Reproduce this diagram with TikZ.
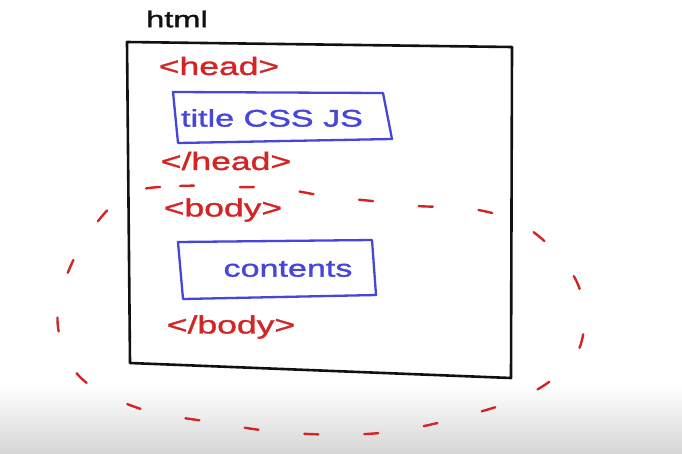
\documentclass[tikz,border=0pt]{standalone}
\usepackage{fontspec}
\setmainfont{Liberation Sans}
\newfontfamily\markerfont[FakeStretch=1.42, FakeBold=1.4]{Liberation Sans}
\definecolor{inkred}{HTML}{D42424}
\definecolor{inkblue}{HTML}{4646DC}
\definecolor{inkblack}{HTML}{111111}
\tikzset{
  pen/.style={line width=2.6pt, line cap=round, line join=round},
  outerbox/.style={pen, draw=inkblack},
  innerbox/.style={pen, draw=inkblue, line width=2.3pt},
  tagtext/.style={text=inkred, font=\markerfont\fontsize{25}{28}\selectfont, inner sep=0pt},
  bluetext/.style={text=inkblue, font=\markerfont\fontsize{24}{28}\selectfont, inner sep=0pt},
  labeltext/.style={text=inkblack, font=\markerfont\fontsize{23}{28}\selectfont, inner sep=0pt},
  scope line/.style={draw=inkred, line width=2.4pt, line cap=round,
    dash pattern=on 14pt off 46pt},
}
\begin{document}
\begin{tikzpicture}[x=1pt,y=-1pt]
  \useasboundingbox (0,0) rectangle (682,453);
  \fill[white] (0,0) rectangle (682,453);
  % soft grey band along the bottom edge
  \shade[top color=white, bottom color=black!16] (0,385) rectangle (682,453);

  % html element
  \node[labeltext] (html) at (177,19) {html};
  \draw[outerbox] (127,42) -- (512,47) -- (511,378) -- (130,363) -- cycle;

  % head section
  \node[tagtext] (headopen) at (219,66) {<head>};
  \draw[innerbox] (173,92) -- (383,93) -- (392,139) -- (178,143) -- cycle;
  \node[bluetext] (headitems) at (272,118) {title CSS JS};
  \node[tagtext] (headclose) at (226,161) {</head>};

  % body section
  \node[tagtext] (bodyopen) at (223,210) {<body>};
  \draw[innerbox] (178,242) -- (372,240) -- (376,295) -- (183,299) -- cycle;
  \node[bluetext] (bodyitems) at (288,269) {contents};
  \node[tagtext] (bodyclose) at (231,327) {</body>};

  % dashed outline around the body
  \draw[scope line] plot[smooth cycle, tension=0.6] coordinates {
    (130,193) (180,186) (235,187) (277,188) (325,196) (372,201) (417,206)
    (473,209) (523,225) (565,263) (583,303) (577,353) (533,392) (461,417)
    (380,433) (290,433) (210,422) (138,408) (80,377) (58,327) (67,275) (95,225)};
\end{tikzpicture}
\end{document}
